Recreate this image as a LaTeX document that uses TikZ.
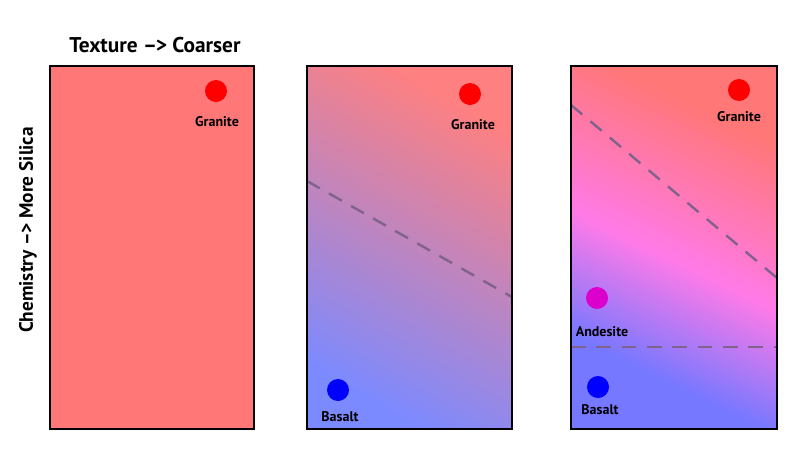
\documentclass[tikz,border=0pt]{standalone}
\usepackage{fontspec}
\setmainfont{PT Sans}
\usetikzlibrary{positioning}

\definecolor{felsic}{RGB}{255,119,119}
\definecolor{felsictop}{RGB}{255,128,128}
\definecolor{maficblue}{RGB}{124,138,255}
\definecolor{maficlow}{RGB}{118,120,255}
\definecolor{intermed}{RGB}{255,122,232}
\definecolor{granitered}{RGB}{255,0,0}
\definecolor{basaltblue}{RGB}{0,0,255}
\definecolor{andesitemag}{RGB}{220,0,205}
\definecolor{boundary}{RGB}{128,98,140}

\pgfdeclareverticalshading{silicathree}{100bp}{color(0bp)=(maficlow); color(30bp)=(maficlow); color(48bp)=(intermed); color(72bp)=(felsic); color(100bp)=(felsic)}

\begin{document}
\begin{tikzpicture}[x=0.75pt,y=0.75pt,yscale=-1,xscale=1,
  panel/.style={draw=black, line width=1.6pt},
  rockdot/.style={circle, inner sep=0pt, minimum size=16.5pt},
  rocklbl/.style={font=\bfseries\fontsize{10.5}{12}\selectfont},
  boundline/.style={draw=boundary, line width=1.8pt, dash pattern=on 11pt off 8pt}]
\useasboundingbox (0,0) rectangle (800,454);

%Shape: Rectangle, one rock type
\fill [felsic] (50,66) rectangle (254,429);
\draw [panel] (50,66) rectangle (254,429);

%Shape: Rectangle, two rock types
\shade [top color=felsictop, bottom color=maficblue, shading angle=-30] (307,66) rectangle (512,429);
\draw [boundline] (307,181) -- (512,297);
\draw [panel] (307,66) rectangle (512,429);

%Shape: Rectangle, three rock types
\shade [shading=silicathree, shading angle=-26] (571,66) rectangle (777,429);
\draw [boundline] (571,105) -- (777,278);
\draw [boundline] (571,347) -- (777,347);
\draw [panel] (571,66) rectangle (777,429);

% Dots
\node [rockdot, fill=granitered] (granite1) at (216,91) {};
\node [rockdot, fill=granitered] (granite2) at (470,94) {};
\node [rockdot, fill=basaltblue] (basalt2) at (338,390) {};
\node [rockdot, fill=granitered] (granite3) at (739,90) {};
\node [rockdot, fill=andesitemag] (andesite3) at (597,298) {};
\node [rockdot, fill=basaltblue] (basalt3) at (598,387) {};

% Text Node
\node [rocklbl] (granitelbl1) at (217,122) {Granite};
% Text Node
\node [rocklbl] (granitelbl2) at (473,125) {Granite};
% Text Node
\node [rocklbl] (basaltlbl2) at (340,417) {Basalt};
% Text Node
\node [rocklbl] (granitelbl3) at (739,117) {Granite};
% Text Node
\node [rocklbl] (andesitelbl3) at (602,332) {Andesite};
% Text Node
\node [rocklbl] (basaltlbl3) at (600,410) {Basalt};
% Text Node
\node [font=\bfseries\fontsize{16}{19}\selectfont] (texture) at (155,45) {Texture --\kern-1pt> Coarser};
% Text Node
\node [font=\bfseries\fontsize{14.5}{17}\selectfont, rotate=90] (chemistry) at (28,230) {Chemistry --\kern-1pt> More Silica};

\end{tikzpicture}
\end{document}
